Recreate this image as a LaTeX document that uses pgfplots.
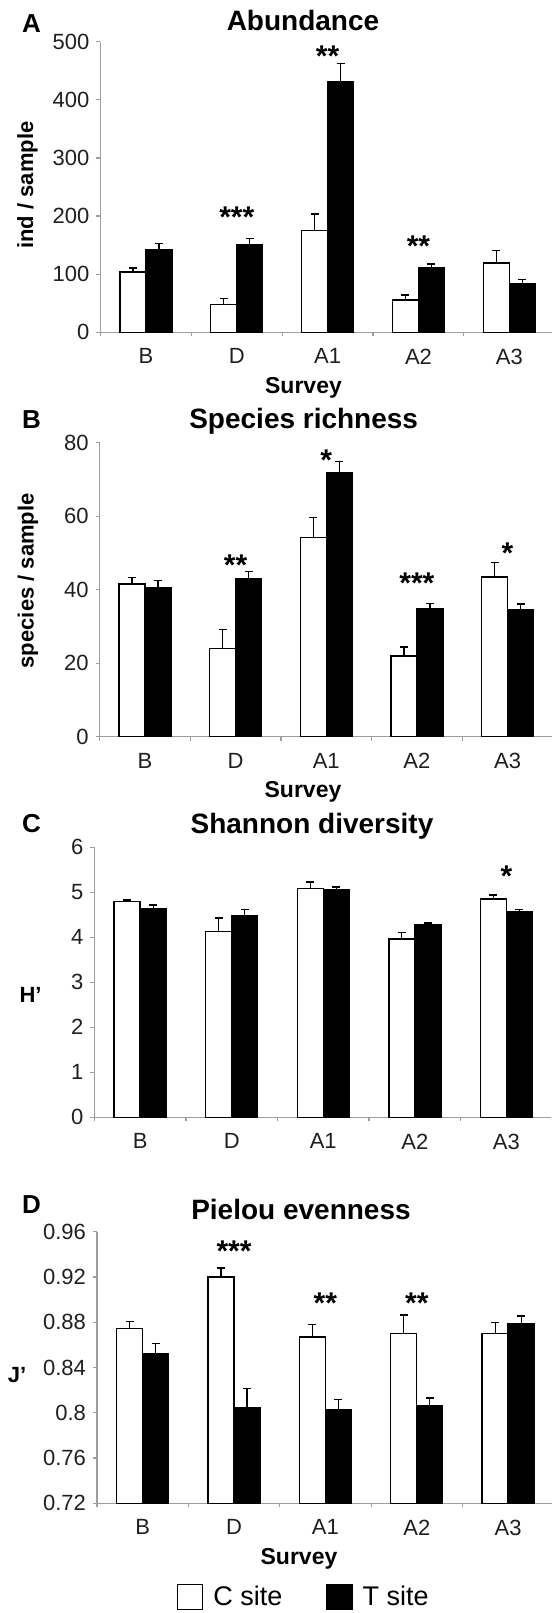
\documentclass[border=0pt]{standalone}
\usepackage{fontspec}
\setmainfont{Liberation Sans}
\usepackage{pgfplots}
\usepackage{pgfplotstable}
\pgfplotsset{compat=1.18}

\pgfplotstableread{
x c ce t te
0 104 6.5 142 10.5
1 47.5 10.5 151 10
2 175 28.5 432 31
3 55.5 8.5 110.5 7
4 119 21.5 83.5 7.5
}\dataA
\pgfplotstableread{
x c ce t te
0 41.5 1.9 40.6 1.9
1 24.0 5.2 43.1 1.8
2 54.2 5.5 71.8 3.1
3 22.0 2.4 34.8 1.5
4 43.4 4.1 34.6 1.5
}\dataB
\pgfplotstableread{
x c ce t te
0 4.79 0.04 4.63 0.09
1 4.13 0.30 4.47 0.14
2 5.09 0.14 5.05 0.07
3 3.96 0.14 4.27 0.05
4 4.85 0.09 4.58 0.04
}\dataC
\pgfplotstableread{
x c ce t te
0 0.8746 0.006 0.852 0.009
1 0.920 0.008 0.8045 0.017
2 0.867 0.011 0.803 0.009
3 0.870 0.0164 0.8063 0.0067
4 0.870 0.0097 0.879 0.0065
}\dataD

\definecolor{axgray}{gray}{0.62}

\tikzset{
  lett/.style={anchor=base west, font=\bfseries\fontsize{13}{13}\selectfont},
  ttl/.style={anchor=base, font=\bfseries\fontsize{14}{14}\selectfont},
  xlab/.style={anchor=base, font=\bfseries\fontsize{11.5}{11.5}\selectfont},
  ylab/.style={anchor=center, font=\bfseries\fontsize{11}{11}\selectfont},
  stars/.style={anchor=base, yshift=-8.4pt, font=\bfseries\fontsize{15}{15}\selectfont},
}

\pgfplotsset{
  panel/.style={
    scale only axis, anchor=south west,
    axis x line=bottom, axis y line=left,
    axis line style={draw=axgray, line width=0.6pt, -},
    tick style={draw=axgray, line width=0.6pt},
    tick align=outside,
    major tick length=2pt,
    ybar=0pt, bar width=13pt,
    xmin=-0.5,
    xtick={-0.5,0.5,1.5,2.5,3.5}, xticklabels={},
    xticklabel style={yshift=-4.7pt},
    extra x ticks={0,1,2,3,4},
    extra x tick labels={B,D,A1,A2,A3},
    extra x tick style={major tick length=0pt},
    tick label style={font=\fontsize{11}{13}\selectfont, text=black!88},
    /pgf/number format/assume math mode=true,
    clip=false,
  },
  cbar/.style={fill=white, draw=black, line width=0.7pt,
    error bars/.cd, y dir=plus, y explicit,
    error bar style={line width=0.6pt, black},
    error mark options={rotate=90, mark size=2pt, line width=0.6pt, black}},
  tbar/.style={fill=black, draw=black, line width=0.7pt,
    error bars/.cd, y dir=plus, y explicit,
    error bar style={line width=0.6pt, black},
    error mark options={rotate=90, mark size=2pt, line width=0.6pt, black}},
}

\begin{document}
\begin{tikzpicture}
\path[use as bounding box] (0,0) rectangle (276pt,806.5pt);

% Panel A
\begin{axis}[panel, at={(50.25pt,640.35pt)}, width=225.75pt, height=145.3pt,
  xmax=4.47, ymin=0, ymax=500, ytick={0,100,...,500}]
\addplot[cbar] table[x=x, y=c, y error=ce] {\dataA};
\addplot[tbar] table[x=x, y=t, y error=te] {\dataA};
\node[stars] at (axis cs:1,209) {***};
\node[stars] at (axis cs:2,485.7) {**};
\node[stars] at (axis cs:3,158.8) {**};
\end{axis}
\node[lett] at (7.5pt,790.35pt) {A};
\node[ttl] at (151.5pt,791.15pt) {Abundance};
\node[xlab] at (151.75pt,609.85pt) {Survey};
\node[ylab, rotate=90] at (13.75pt,714pt) {ind / sample};

% Panel B
\begin{axis}[panel, at={(49.8pt,438.15pt)}, width=226.2pt, height=147pt,
  xmax=4.49, ymin=0, ymax=80, ytick={0,20,...,80}]
\addplot[cbar] table[x=x, y=c, y error=ce] {\dataB};
\addplot[tbar] table[x=x, y=t, y error=te] {\dataB};
\node[stars] at (axis cs:1,48.5) {**};
\node[stars] at (axis cs:2,77.1) {*};
\node[stars] at (axis cs:3,43.5) {***};
\node[stars] at (axis cs:4,51.7) {*};
\end{axis}
\node[lett] at (7.5pt,592.35pt) {B};
\node[ttl] at (151.85pt,592.35pt) {Species richness};
\node[xlab] at (151.5pt,407.5pt) {Survey};
\node[ylab, rotate=90] at (14pt,516.1pt) {species / sample};

% Panel C
\begin{axis}[panel, at={(47.2pt,247.85pt)}, width=228.4pt, height=135pt,
  xmax=4.49, ymin=0, ymax=6, ytick={0,1,...,6}]
\addplot[cbar] table[x=x, y=c, y error=ce] {\dataC};
\addplot[tbar] table[x=x, y=t, y error=te] {\dataC};
\node[stars] at (axis cs:4,5.50) {*};
\end{axis}
\node[lett] at (7.5pt,390pt) {C};
\node[ttl] at (156pt,389.85pt) {Shannon diversity};
\node[ylab] at (15.3pt,309pt) {H'};

% Panel D
\begin{axis}[panel, at={(48.5pt,54.85pt)}, width=227.5pt, height=135.8pt,
  xmax=4.48, ymin=0.72, ymax=0.96,
  ytick={0.72,0.76,0.80,0.84,0.88,0.92,0.96},
  yticklabels={0.72,0.76,0.8,0.84,0.88,0.92,0.96},
  clip=true,
  legend style={at={(0.457,-0.344)}, anchor=center, draw=none, fill=none,
    legend columns=2, font=\fontsize{13.5}{14}\selectfont,
    /tikz/every odd column/.append style={column sep=3pt},
    /tikz/every even column/.append style={column sep=20pt},
    legend cell align=left},
  legend image code/.code={\draw[#1, line width=0.6pt] (0pt,-6.25pt) rectangle (12.5pt,6.25pt);},
  ]
\addplot[cbar] table[x=x, y=c, y error=ce] {\dataD};
\addlegendentry{C site}
\addplot[tbar] table[x=x, y=t, y error=te] {\dataD};
\addlegendentry{T site}
\node[stars] at (axis cs:1,0.9483) {***};
\node[stars] at (axis cs:2,0.9026) {**};
\node[stars] at (axis cs:3,0.9026) {**};
\end{axis}
\node[lett] at (7.5pt,199.85pt) {D};
\node[ttl] at (150.5pt,196.85pt) {Pielou evenness};
\node[xlab] at (149.5pt,24.35pt) {Survey};
\node[ylab] at (8.5pt,119pt) {J'};
\end{tikzpicture}
\end{document}
